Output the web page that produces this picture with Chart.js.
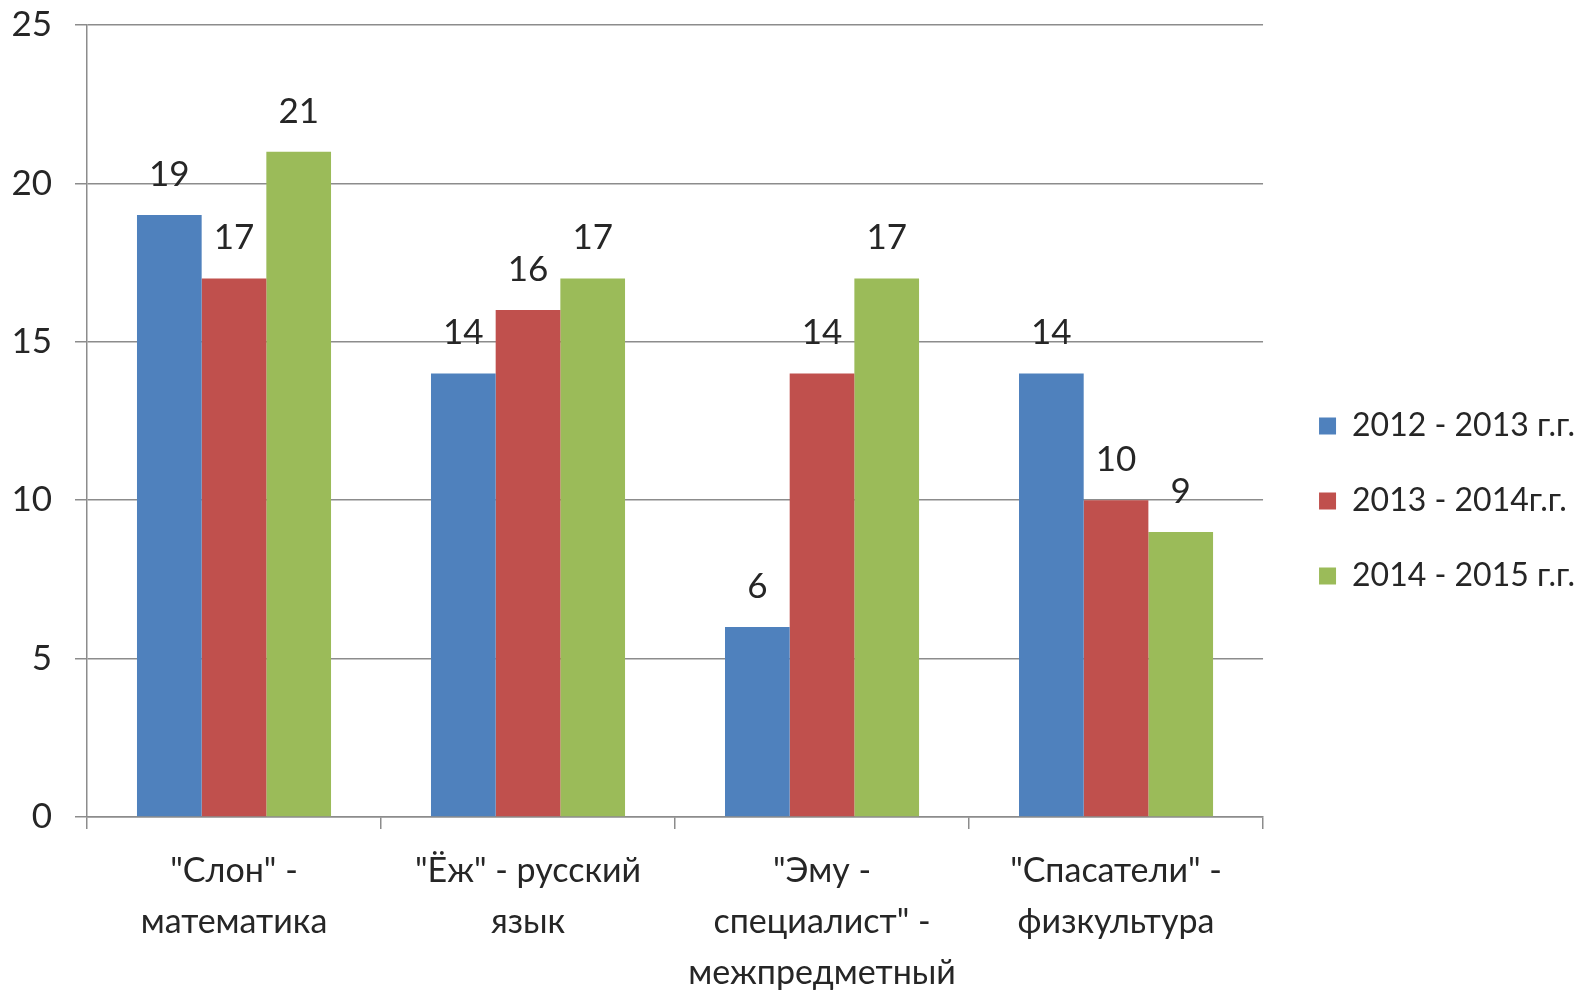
<!DOCTYPE html>
<html>
<head>
<meta charset="utf-8">
<script src="https://cdn.jsdelivr.net/npm/chart.js@4"></script>
<style>
  body { margin: 0; background: #fff; }
  #wrap { width: 1591px; height: 993px; }
</style>
</head>
<body>
<div id="wrap"><canvas id="chart" width="1591" height="993"></canvas></div>
<script>
// data
const categories = [
    ['"Слон" -', 'математика'],
    ['"Ёж" - русский', 'язык'],
    ['"Эму -', 'специалист" -', 'межпредметный'],
    ['"Спасатели" -', 'физкультура']
];
const seriesNames = ['2012 - 2013 г.г.', '2013 - 2014г.г.', '2014 - 2015 г.г.'];
const values2012 = [19, 14, 6, 14];
const values2013 = [17, 16, 14, 10];
const values2014 = [21, 17, 17, 9];
const yTicks = [0, 5, 10, 15, 20, 25];

const colors = ['#4F81BD', '#C0504D', '#9BBB59'];
const textColor = '#262626';
const gridColor = '#8c8c8c';
const fontFamily = 'Lato, "Open Sans", sans-serif';

// value labels above the bars
const barLabels = {
    id: 'barLabels',
    afterDatasetsDraw(chart) {
        const ctx = chart.ctx;
        ctx.save();
        ctx.font = '35px ' + fontFamily;
        ctx.fillStyle = textColor;
        ctx.textAlign = 'center';
        ctx.textBaseline = 'alphabetic';
        chart.data.datasets.forEach((ds, i) => {
            chart.getDatasetMeta(i).data.forEach((bar, j) => {
                ctx.fillText(ds.data[j], bar.x, bar.y - 29);
            });
        });
        ctx.restore();
    }
};

// nudge the legend a bit, like the original
const legendShift = {
    id: 'legendShift',
    afterLayout(chart) {
        chart.legend.left += 13;
        chart.legend.right += 13;
        chart.legend.top -= 8;
        chart.legend.bottom -= 8;
    }
};

new Chart(document.getElementById('chart').getContext('2d'), {
    type: 'bar',
    data: {
        labels: categories,
        datasets: [
            { label: seriesNames[0], data: values2012, backgroundColor: colors[0] },
            { label: seriesNames[1], data: values2013, backgroundColor: colors[1] },
            { label: seriesNames[2], data: values2014, backgroundColor: colors[2] }
        ]
    },
    options: {
        responsive: false,
        animation: false,
        layout: { padding: { left: 8, right: 19, top: 25, bottom: 0 } },
        datasets: {
            bar: { categoryPercentage: 0.66, barPercentage: 1.0 }
        },
        scales: {
            x: {
                afterFit(scale) {
                    scale.height = 176;
                    scale.paddingLeft = 0;
                    scale.paddingRight = 0;
                },
                grid: {
                    display: true,
                    offset: true,
                    drawOnChartArea: false,
                    drawTicks: true,
                    tickLength: 12,
                    color: gridColor,
                    lineWidth: 1.5
                },
                border: { color: gridColor, width: 1.5 },
                ticks: {
                    color: textColor,
                    padding: 17,
                    maxRotation: 0,
                    autoSkip: false,
                    font: { family: fontFamily, size: 34, lineHeight: 1.5 }
                }
            },
            y: {
                min: 0,
                max: 25,
                afterBuildTicks(scale) {
                    scale.ticks = yTicks.map(v => ({ value: v }));
                },
                afterFit(scale) {
                    scale.width = 79;
                    scale.paddingTop = 0;
                    scale.paddingBottom = 0;
                },
                grid: {
                    color: gridColor,
                    lineWidth: 1.5,
                    tickLength: 12
                },
                border: { color: gridColor, width: 1.5 },
                ticks: {
                    color: textColor,
                    padding: 23,
                    font: { family: fontFamily, size: 35 }
                }
            }
        },
        plugins: {
            legend: {
                position: 'right',
                align: 'center',
                labels: {
                    color: textColor,
                    boxWidth: 17,
                    boxHeight: 17,
                    padding: 43,
                    font: { family: fontFamily, size: 32 }
                }
            },
            tooltip: { enabled: false }
        }
    },
    plugins: [barLabels, legendShift]
});
</script>
</body>
</html>
